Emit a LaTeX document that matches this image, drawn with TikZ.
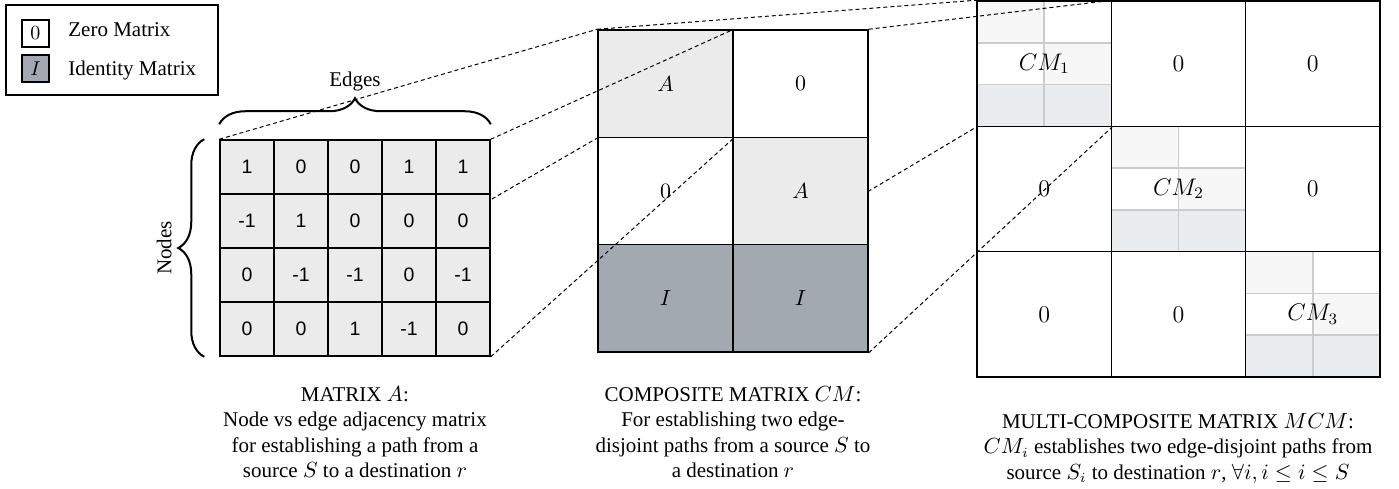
\documentclass[tikz,border=0pt]{standalone}
\usepackage{fontspec}
\setmainfont{Liberation Serif}
\newfontfamily\numfont{Liberation Sans}
\usetikzlibrary{decorations.pathreplacing}
\definecolor{cellgray}{HTML}{EBEBEB}
\definecolor{idgray}{HTML}{A2A9B0}
\definecolor{subline}{HTML}{CCCCCC}
\definecolor{subfaint}{HTML}{F7F7F7}
\definecolor{subgray}{HTML}{EBECEE}
\pgfdeclarelayer{background}
\pgfdeclarelayer{foreground}
\pgfsetlayers{background,main,foreground}
\tikzset{
  grid/.style={draw, line width=0.75pt, inner sep=0pt},
  acell/.style={grid, fill=cellgray, minimum width=27pt, minimum height=27pt,
    font=\numfont\fontsize{9.75}{11}\selectfont},
  ccell/.style={grid, minimum width=67.5pt, minimum height=53.67pt,
    font=\fontsize{11}{13}\selectfont},
  mcell/.style={grid, minimum width=67.17pt, minimum height=62.67pt,
    font=\fontsize{11.5}{13}\selectfont},
  subcell/.style={draw=subline, line width=0.75pt, inner sep=0pt,
    minimum width=33.58pt, minimum height=20.89pt},
  key/.style={draw, line width=0.6pt, minimum width=13.5pt, minimum height=13.5pt,
    inner sep=0pt, font=\fontsize{10}{11}\selectfont},
  keytext/.style={anchor=base west, inner sep=0pt, font=\fontsize{10.5}{12}\selectfont},
  zoomline/.style={line width=0.5pt, dash pattern=on 2pt off 1.5pt},
  curly/.style={decorate, decoration={brace, amplitude=13pt}, line width=1pt},
  capt/.style={align=center, inner sep=0pt, font=\fontsize{10.5}{12.75}\selectfont},
}
\begin{document}
\begin{tikzpicture}[x=0.5pt, y=0.5pt]
  \useasboundingbox (0,0) rectangle (1399,488);
  % legend
  \node[draw, line width=0.6pt, minimum width=106pt, minimum height=45pt] (legend) at (112,438) {};
  \node[key, fill=white] (key0) at (35.5,454.5) {$0$};
  \node[key, fill=idgray] (keyI) at (35.5,419.5) {$I$};
  \node[keytext] (key0txt) at (68,451) {Zero Matrix};
  \node[keytext] (keyItxt) at (68,412) {Identity Matrix};

  % matrix A
  \begin{pgfonlayer}{foreground}
    \foreach \row [count=\r] in {{1,0,0,1,1},{-1,1,0,0,0},{0,-1,-1,0,-1},{0,0,1,-1,0}}
      \foreach \v [count=\c] in \row
        \node[acell] (a-\r-\c) at ({193+54*\c},{375-54*\r}) {\v};
  \end{pgfonlayer}
  \draw[curly] ([yshift=7.5pt]a-1-1.north west) -- ([yshift=7.5pt]a-1-5.north east);
  \draw[curly] ([xshift=-7.5pt]a-4-1.south west) -- ([xshift=-7.5pt]a-1-1.north west);
  \node[anchor=base, inner sep=0pt, font=\fontsize{10.5}{12}\selectfont] (edgeslbl) at (355,401) {Edges};
  \node[rotate=90, anchor=south, inner sep=0pt, font=\fontsize{10.5}{12}\selectfont] (nodeslbl) at (172,240) {Nodes};

  % multi-composite matrix
  \begin{pgfonlayer}{background}
    \foreach \k in {1,2,3}
      \foreach \r/\c/\col in {1/1/subfaint, 1/2/white, 2/1/white, 2/2/subfaint, 3/1/subgray, 3/2/subgray}
        \node[subcell, fill=\col] (s\k-\r-\c) at ({977+134.33*(\k-1)+67.17*(\c-0.5)},{487-125.33*(\k-1)-41.78*(\r-0.5)}) {};
    \foreach \r in {1,2,3}
      \foreach \c in {1,2,3}
        \node[mcell] (m-\r-\c) at ({977+134.33*(\c-0.5)},{487-125.33*(\r-0.5)}) {\ifnum\r=\c $CM_{\r}$\else $0$\fi};
  \end{pgfonlayer}

  % composite matrix
  \foreach \r/\c/\lab/\col in {1/1/A/cellgray, 1/2/0/white, 2/1/0/white, 2/2/A/cellgray, 3/1/I/idgray, 3/2/I/idgray}
    \node[ccell, fill=\col] (c-\r-\c) at ({598+135*(\c-0.5)},{458-107.33*(\r-0.5)}) {$\lab$};

  % zoom lines
  \begin{pgfonlayer}{background}
    \draw[zoomline] (c-1-1.north west) -- (m-1-1.north west);
    \draw[zoomline] (c-1-2.north east) -- (m-1-1.north east);
    \draw[zoomline] (c-3-2.south east) -- (m-1-1.south east);
    \draw[zoomline] (c-3-1.south west) -- (m-1-1.south west);
  \end{pgfonlayer}
  \draw[zoomline] (a-1-1.north west) -- (c-1-1.north west);
  \draw[zoomline] (a-1-5.north east) -- (c-1-1.north east);
  \draw[zoomline] (a-4-5.south east) -- (c-1-1.south east);
  \draw[zoomline] (a-4-1.south west) -- (c-1-1.south west);

  % captions
  \node[capt, anchor=north] (capA) at (355,102) {MATRIX $A$:\\Node vs edge adjacency matrix\\for establishing a path from a\\source $S$ to a destination $r$};
  \node[capt, anchor=north] (capCM) at (733,102) {COMPOSITE MATRIX $CM$:\\For establishing two edge-\\disjoint paths from a source $S$ to\\a destination $r$};
  \node[capt, anchor=north] (capMCM) at (1178,75) {MULTI-COMPOSITE MATRIX $MCM$:\\$CM_i$ establishes two edge-disjoint paths from\\source $S_i$ to destination $r$, $\forall i, i \leq i \leq S$};
\end{tikzpicture}
\end{document}
